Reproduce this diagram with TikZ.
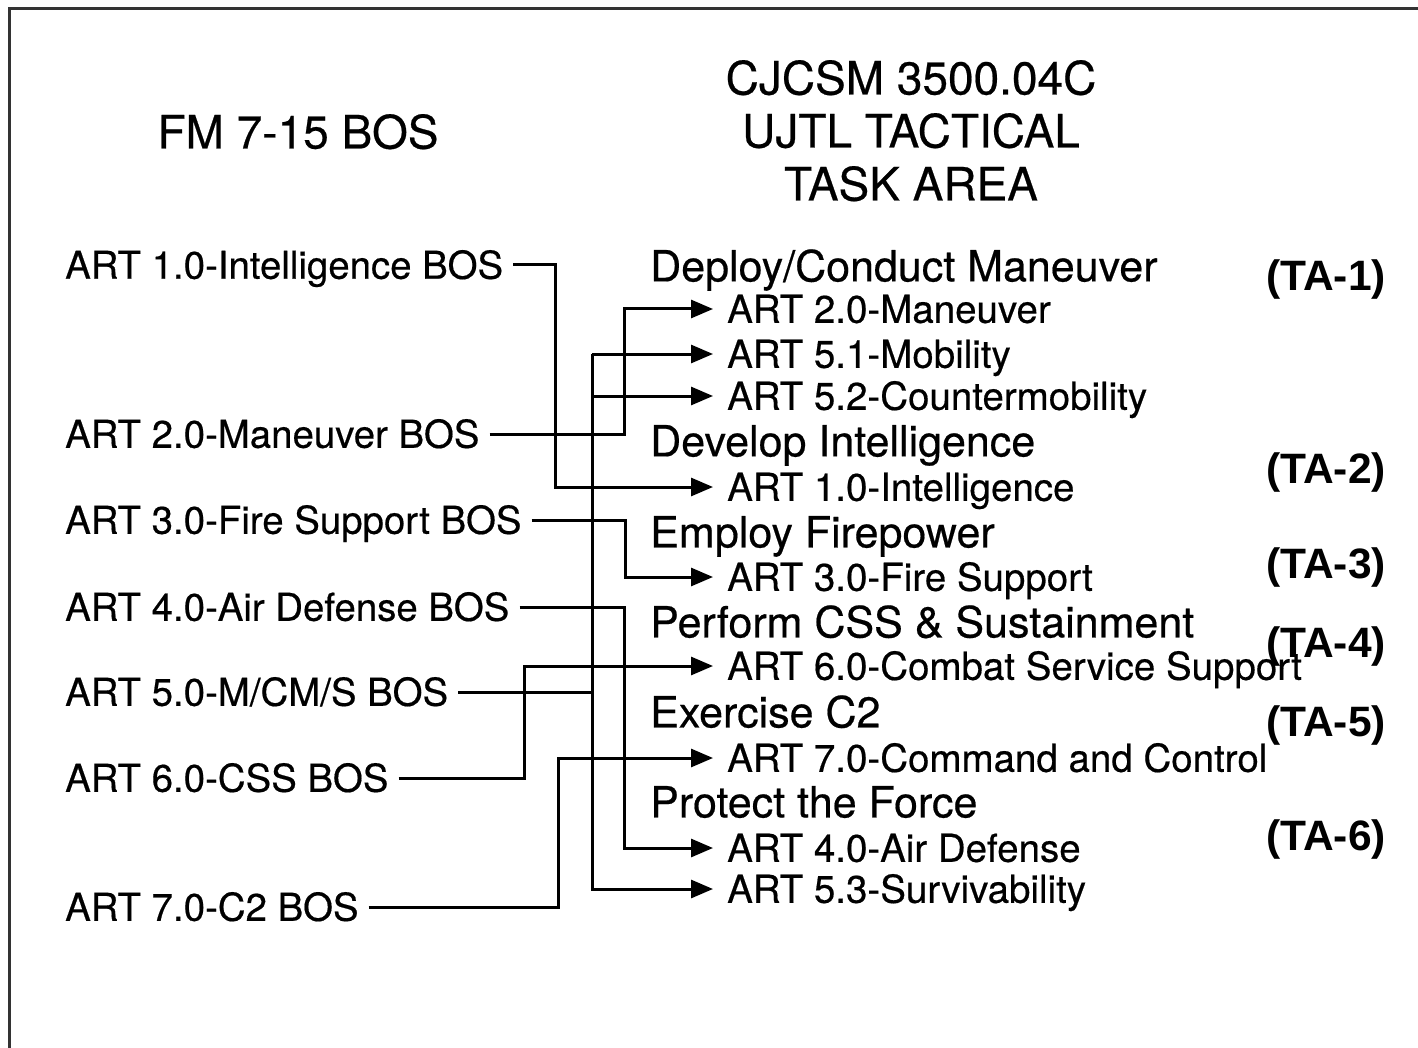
\documentclass[tikz,border=0pt]{standalone}
\usepackage{fontspec}
\setmainfont{TeX Gyre Heros}
\newfontfamily\medfont{TeX Gyre Heros}[BoldFont={TeX Gyre Heros}, BoldFeatures={FakeBold=0.45}]
\newfontfamily\tafont{Liberation Sans}
\usetikzlibrary{arrows.meta}
\definecolor{framecol}{HTML}{333333}
\begin{document}
\begin{tikzpicture}[x=1pt,y=-1pt,
  every node/.style={inner sep=0pt, anchor=west},
  bositem/.style={font=\medfont\bfseries\fontsize{38.4}{40}\selectfont, text height=27.5pt, text depth=0pt},
  taskitem/.style={font=\medfont\bfseries\fontsize{38.5}{40}\selectfont, text height=27.6pt, text depth=0pt},
  taskhead/.style={font=\medfont\bfseries\fontsize{43}{45}\selectfont, text height=30.8pt, text depth=0pt},
  talabel/.style={font=\tafont\bfseries\fontsize{42.5}{44}\selectfont, anchor=east, text height=30.5pt, text depth=0pt},
  colhead/.style={font=\medfont\bfseries\fontsize{46}{53}\selectfont, anchor=center, text height=33pt, text depth=0pt},
  conn/.style={line width=3pt, shorten <=10pt, shorten >=14pt, -{Triangle[length=22pt,width=18pt]}},
  feed/.style={line width=3pt, shorten <=10pt},
  branch/.style={line width=3pt, shorten >=14pt, -{Triangle[length=22pt,width=18pt]}}
]
\useasboundingbox[fill=white] (0,0) rectangle (1418,1048);
\draw[framecol, line width=3pt] (9,1048) -- (9,9) -- (1418,9);

% column headings
\node[colhead] (hfm) at (298,132) {FM 7-15 BOS};
\node[colhead] (hcj1) at (911,78) {CJCSM 3500.04C};
\node[colhead] (hcj2) at (911,131) {UJTL TACTICAL};
\node[colhead] (hcj3) at (911,184) {TASK AREA};

% left column
\node[bositem] (l1) at (65,265) {ART 1.0-Intelligence BOS};
\node[bositem] (l2) at (65,434) {ART 2.0-Maneuver BOS};
\node[bositem] (l3) at (65,520) {ART 3.0-Fire Support BOS};
\node[bositem] (l4) at (65,607) {ART 4.0-Air Defense BOS};
\node[bositem] (l5) at (65,692) {ART 5.0-M/CM/S BOS};
\node[bositem] (l6) at (65,778) {ART 6.0-CSS BOS};
\node[bositem] (l7) at (65,907) {ART 7.0-C2 BOS};

% right column
\node[taskhead] (t1) at (650,266) {Deploy/Conduct Maneuver};
\node[taskitem] (r1) at (727,309) {ART 2.0-Maneuver};
\node[taskitem] (r2) at (727,354) {ART 5.1-Mobility};
\node[taskitem] (r3) at (727,396) {ART 5.2-Countermobility};
\node[taskhead] (t2) at (650,441) {Develop Intelligence};
\node[taskitem] (r4) at (727,487) {ART 1.0-Intelligence};
\node[taskhead] (t3) at (650,532) {Employ Firepower};
\node[taskitem] (r5) at (727,577) {ART 3.0-Fire Support};
\node[taskhead] (t4) at (650,622) {Perform CSS \& Sustainment};
\node[taskitem] (r6) at (727,666) {ART 6.0-Combat Service Support};
\node[taskhead] (t5) at (650,712) {Exercise C2};
\node[taskitem] (r7) at (727,758) {ART 7.0-Command and Control};
\node[taskhead] (t6) at (650,802) {Protect the Force};
\node[taskitem] (r8) at (727,848) {ART 4.0-Air Defense};
\node[taskitem] (r9) at (727,889) {ART 5.3-Survivability};

% TA labels
\node[talabel] (ta1) at (1386,275) {(TA-1)};
\node[talabel] (ta2) at (1386,468) {(TA-2)};
\node[talabel] (ta3) at (1386,563) {(TA-3)};
\node[talabel] (ta4) at (1386,642) {(TA-4)};
\node[talabel] (ta5) at (1386,721) {(TA-5)};
\node[talabel] (ta6) at (1386,835) {(TA-6)};

% vertical routing columns
\coordinate (vint) at (555,0);
\coordinate (vman) at (624,0);
\coordinate (vmcm) at (592,0);
\coordinate (vfs) at (625,0);
\coordinate (vad) at (624,0);
\coordinate (vcss) at (524,0);
\coordinate (vc2) at (558,0);

% connectors
\draw[conn] (l1.east) -| (vint |- r4.west) -- (r4.west);
\draw[conn] (l2.east) -| (vman |- r1.west) -- (r1.west);
\draw[conn] (l3.east) -| (vfs |- r5.west) -- (r5.west);
\draw[conn] (l4.east) -| (vad |- r8.west) -- (r8.west);
\draw[feed] (l5.east) -- (vmcm |- l5.east);
\draw[branch] (vmcm |- r2.west) -- (r2.west);
\draw[branch] (vmcm |- r3.west) -- (r3.west);
\draw[branch] (vmcm |- r2.west) |- (r9.west);
\draw[conn] (l6.east) -| (vcss |- r6.west) -- (r6.west);
\draw[conn] (l7.east) -| (vc2 |- r7.west) -- (r7.west);
\end{tikzpicture}
\end{document}
